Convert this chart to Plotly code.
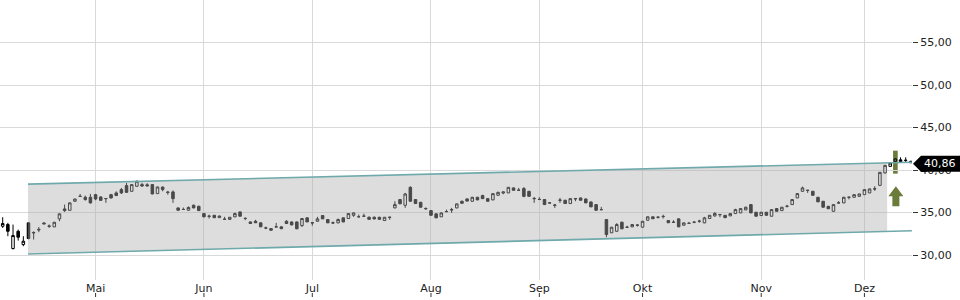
import plotly.graph_objects as go

# ---------------- data ----------------
month_labels = ["Mai", "Jun", "Jul", "Aug", "Sep", "Okt", "Nov", "Dez"]
month_index = [18, 39, 60, 83, 104, 124, 147, 167]

opens = [
    33.39, 33.59, 30.77, 32.80, 31.24, 33.79, 32.60, 32.95, 33.78, 33.42,
    33.32, 34.26, 35.43, 35.27, 36.33, 36.92, 36.80, 36.80, 37.11, 36.84,
    36.66, 37.11, 37.31, 37.70, 38.17, 37.50, 38.09, 38.29, 38.27, 38.29,
    37.23, 38.00, 37.36, 37.43, 35.55, 35.38, 35.28, 35.86, 35.74, 34.88,
    34.58, 34.68, 34.40, 34.20, 34.20, 34.50, 35.08, 34.32, 33.90, 33.98,
    33.79, 33.20, 33.12, 33.30, 33.32, 33.98, 33.90, 33.90, 33.47, 34.38,
    33.82, 33.98, 34.65, 34.18, 33.80, 33.79, 34.38, 34.30, 34.68, 34.50,
    34.57, 34.45, 34.45, 34.45, 34.06, 34.47, 35.55, 36.53, 35.86, 37.97,
    36.53, 36.21, 35.48, 35.23, 34.85, 34.50, 35.10, 35.30, 35.55, 36.33,
    36.61, 36.33, 36.80, 37.00, 36.64, 36.49, 37.03, 37.30, 37.31, 37.90,
    37.64, 37.82, 37.50, 36.62, 36.53, 36.53, 36.12, 35.84, 36.43, 36.45,
    36.06, 36.60, 36.72, 36.60, 36.25, 35.94, 35.33, 34.18, 32.62, 32.80,
    33.86, 33.26, 33.32, 33.50, 33.28, 34.10, 34.50, 34.44, 34.52, 34.06,
    33.85, 34.26, 33.51, 33.72, 33.85, 33.97, 33.79, 34.30, 34.60, 34.78,
    34.68, 34.61, 34.88, 34.96, 35.31, 35.94, 35.04, 34.65, 35.04, 34.57,
    35.47, 35.23, 35.73, 35.94, 36.72, 37.50, 37.64, 37.50, 36.80, 36.33,
    35.74, 35.15, 36.12, 36.14, 36.82, 36.80, 36.91, 37.11, 37.31, 37.76,
    38.20, 39.66, 40.43, 41.02, 41.20, 41.12, 41.02,
]
highs = [
    34.45, 33.79, 33.59, 33.00, 32.22, 33.85, 32.80, 33.30, 33.85, 33.60,
    33.90, 34.90, 35.94, 36.20, 36.62, 37.19, 37.00, 37.19, 37.20, 36.88,
    36.66, 37.20, 37.50, 37.90, 38.49, 38.30, 38.75, 38.50, 38.45, 38.35,
    38.05, 38.05, 37.55, 37.60, 35.60, 35.60, 35.72, 35.95, 35.80, 34.95,
    34.75, 34.72, 34.62, 34.50, 34.47, 35.00, 35.10, 34.45, 33.95, 34.15,
    33.85, 33.35, 33.15, 33.79, 33.40, 34.10, 33.95, 33.95, 34.35, 34.45,
    33.85, 34.50, 34.70, 34.20, 33.95, 34.30, 34.40, 34.90, 35.00, 34.77,
    34.88, 34.55, 34.55, 34.50, 34.48, 34.50, 36.33, 36.60, 37.31, 38.09,
    36.60, 36.25, 35.62, 35.25, 34.90, 35.00, 35.35, 35.55, 36.05, 36.40,
    36.65, 36.85, 36.85, 37.10, 36.70, 37.25, 37.45, 37.45, 38.00, 37.95,
    37.90, 38.00, 37.55, 36.84, 36.80, 36.55, 36.20, 36.02, 36.72, 36.50,
    36.66, 36.68, 36.75, 36.65, 36.30, 35.98, 35.67, 34.20, 33.30, 33.75,
    33.95, 33.45, 33.62, 33.65, 34.00, 34.55, 34.52, 34.55, 34.75, 34.08,
    34.10, 34.28, 33.80, 33.90, 34.00, 34.15, 34.50, 34.70, 35.05, 34.80,
    34.70, 34.90, 35.45, 35.50, 35.70, 36.00, 35.06, 35.06, 35.06, 35.40,
    35.50, 35.65, 35.90, 36.55, 37.30, 38.05, 37.66, 37.55, 36.85, 36.35,
    35.76, 35.96, 36.35, 36.85, 36.84, 37.13, 37.21, 37.72, 37.80, 38.10,
    39.75, 40.60, 40.88, 41.35, 41.50, 41.50, 41.10,
]
lows = [
    33.20, 32.22, 30.66, 31.71, 31.04, 31.85, 31.83, 32.70, 33.60, 33.20,
    33.30, 33.98, 35.08, 35.25, 36.30, 36.90, 36.40, 36.06, 36.45, 36.42,
    36.14, 36.65, 36.95, 37.20, 37.30, 37.48, 38.05, 38.05, 38.10, 37.15,
    37.20, 37.50, 37.10, 36.14, 35.22, 35.36, 35.20, 35.50, 35.20, 34.45,
    34.30, 34.35, 34.38, 34.18, 34.18, 34.45, 34.55, 34.10, 33.70, 33.78,
    33.30, 33.05, 32.90, 33.28, 33.08, 33.70, 33.50, 33.05, 33.30, 33.88,
    33.45, 33.95, 34.25, 33.78, 33.65, 33.75, 33.88, 34.28, 34.50, 34.48,
    34.55, 34.15, 34.20, 34.18, 34.05, 34.15, 35.50, 36.00, 35.55, 36.30,
    36.05, 35.60, 35.30, 34.65, 34.35, 34.48, 35.08, 34.96, 35.50, 36.05,
    36.30, 36.30, 36.45, 36.60, 36.30, 36.45, 37.00, 37.15, 37.30, 37.60,
    37.60, 36.80, 36.90, 36.14, 36.50, 35.90, 36.10, 35.55, 36.14, 36.05,
    36.05, 36.33, 36.40, 36.12, 35.65, 35.25, 35.30, 32.10, 32.60, 32.78,
    33.05, 33.24, 33.30, 33.35, 33.25, 34.05, 34.25, 34.30, 34.30, 33.78,
    33.83, 33.30, 33.50, 33.70, 33.75, 33.80, 33.75, 34.28, 34.55, 34.45,
    34.35, 34.60, 34.85, 34.95, 35.30, 34.95, 34.55, 34.63, 34.66, 34.55,
    35.13, 35.20, 35.60, 35.90, 36.70, 37.45, 37.31, 37.00, 36.25, 35.60,
    35.42, 35.13, 36.10, 36.10, 36.55, 36.78, 36.90, 37.09, 37.29, 37.55,
    38.15, 39.60, 40.40, 40.95, 40.85, 40.83, 40.85,
]
closes = [
    33.71, 32.80, 32.30, 32.10, 31.63, 31.95, 32.65, 33.02, 33.68, 33.40,
    33.86, 34.85, 35.23, 36.14, 36.60, 36.90, 36.53, 36.14, 36.60, 36.44,
    36.64, 36.72, 37.00, 37.31, 37.38, 38.29, 38.68, 38.12, 38.13, 37.19,
    38.01, 37.70, 37.40, 36.64, 35.27, 35.36, 35.60, 35.55, 35.23, 34.50,
    34.56, 34.40, 34.60, 34.22, 34.45, 34.88, 34.57, 34.30, 33.72, 33.80,
    33.32, 33.18, 32.92, 33.32, 33.10, 33.71, 33.55, 33.09, 34.30, 33.90,
    33.78, 34.26, 34.26, 33.79, 33.78, 34.18, 33.90, 34.88, 34.96, 34.50,
    34.58, 34.20, 34.25, 34.20, 34.45, 34.43, 35.94, 36.03, 37.19, 36.33,
    36.06, 35.63, 35.46, 34.68, 34.38, 34.96, 35.12, 35.35, 36.02, 36.09,
    36.35, 36.80, 36.49, 36.64, 36.33, 37.23, 37.38, 37.43, 37.97, 37.62,
    37.62, 36.91, 36.91, 36.66, 36.55, 35.94, 36.14, 35.88, 36.47, 36.06,
    36.64, 36.64, 36.45, 36.14, 35.67, 35.27, 35.35, 32.42, 33.28, 33.59,
    33.09, 33.28, 33.59, 33.53, 33.98, 34.50, 34.27, 34.46, 34.55, 33.80,
    33.87, 33.32, 33.79, 33.74, 33.87, 33.99, 34.38, 34.68, 34.90, 34.75,
    34.40, 34.88, 35.35, 35.47, 35.63, 34.96, 34.57, 35.04, 34.68, 35.35,
    35.15, 35.63, 35.75, 36.53, 37.23, 37.90, 37.60, 37.03, 36.26, 35.63,
    35.45, 35.94, 36.14, 36.80, 36.80, 37.11, 37.19, 37.70, 37.78, 37.80,
    39.73, 40.55, 40.83, 41.30, 41.02, 41.15, 40.86,
]
x_idx = list(range(len(closes)))

# trend channel (start/end in bar index, values in price)
channel_x = [4.9, 176.2]
channel_upper = [38.35, 40.92]
channel_lower = [30.12, 32.86]
channel_fill_end = 171.4

# signal highlight
signal_idx = 173
signal_range = [39.58, 42.28]
arrow_tip = 38.1

last_price = closes[-1]
y_ticks = [30, 35, 40, 45, 50, 55]

# ---------------- figure ----------------
FONT = "DejaVu Sans"
GRID = "#d9d9d9"


def interp(xa, ya, xv):
    return ya[0] + (ya[1] - ya[0]) * (xv - xa[0]) / (xa[1] - xa[0])


fig = go.Figure()

# channel fill
fx = [channel_x[0], channel_fill_end, channel_fill_end, channel_x[0]]
fy = [channel_upper[0], interp(channel_x, channel_upper, channel_fill_end),
      interp(channel_x, channel_lower, channel_fill_end), channel_lower[0]]
fig.add_trace(go.Scatter(x=fx, y=fy, fill="toself", mode="none",
                         fillcolor="rgba(175,175,175,0.42)", hoverinfo="skip",
                         showlegend=False))
# channel lines
for ys in (channel_upper, channel_lower):
    fig.add_trace(go.Scatter(x=channel_x, y=ys, mode="lines",
                             line=dict(color="#6fa9ab", width=1.6),
                             hoverinfo="skip", showlegend=False))

fig.add_trace(go.Candlestick(
    x=x_idx, open=opens, high=highs, low=lows, close=closes,
    increasing=dict(line=dict(color="#000000", width=1), fillcolor="#ffffff"),
    decreasing=dict(line=dict(color="#000000", width=1), fillcolor="#000000"),
    whiskerwidth=0, showlegend=False, hoverinfo="skip",
))

shapes = []
# green signal bar (behind candle)
shapes.append(dict(type="rect", xref="x", yref="y", layer="below",
                   x0=signal_idx - 0.45, x1=signal_idx + 0.45,
                   y0=signal_range[0], y1=signal_range[1],
                   fillcolor="#6b7b3a", line=dict(width=0)))
# up arrow
shapes.append(dict(type="path", xref="x", yref="y",
                   xsizemode="pixel", ysizemode="pixel",
                   xanchor=signal_idx, yanchor=arrow_tip,
                   path="M 0.5 0 L 8 -10 L 4 -10 L 4 -20 L -3 -20 L -3 -10 L -7 -10 Z",
                   fillcolor="#6b7b3a", line=dict(width=0)))
# price label box with pointer
shapes.append(dict(type="path", xref="paper", yref="y",
                   xsizemode="pixel", ysizemode="pixel",
                   xanchor=1, yanchor=last_price,
                   path="M 1 -1 L 9 7 L 48 7 L 48 -9 L 9 -9 Z",
                   fillcolor="#000000", line=dict(width=0)))
# x tick marks beneath the labels
for m in month_index:
    shapes.append(dict(type="line", xref="x", yref="paper",
                       x0=m, x1=m, y0=-13 / 280, y1=-17 / 280,
                       line=dict(color="#333333", width=1)))

fig.update_layout(
    width=960, height=300,
    margin=dict(l=0, r=48, t=0, b=20),
    paper_bgcolor="white", plot_bgcolor="white",
    separators=",.",
    font=dict(family=FONT, size=11, color="#222222"),
    shapes=shapes,
    showlegend=False,
    xaxis=dict(
        range=[-0.523, 176.22], tickmode="array",
        tickvals=month_index, ticktext=month_labels,
        showgrid=True, gridcolor=GRID, gridwidth=1,
        zeroline=False, showline=False, ticks="",
        rangeslider=dict(visible=False), fixedrange=True,
        tickfont=dict(family=FONT, size=11, color="#222222"),
    ),
    yaxis=dict(
        side="right", range=[27.07, 60.0],
        tickmode="array", tickvals=y_ticks, tickformat=".2f",
        showgrid=True, gridcolor=GRID, gridwidth=1,
        zeroline=False, showline=False,
        ticks="outside", ticklen=5, tickcolor="#333333",
        tickfont=dict(family=FONT, size=11, color="#222222"),
        fixedrange=True,
    ),
    annotations=[dict(
        xref="paper", yref="y", x=1, y=last_price, xanchor="left",
        yanchor="middle", xshift=10, yshift=-1, showarrow=False,
        text=f"{last_price:.2f}".replace(".", ","),
        font=dict(family=FONT, size=11, color="white"),
    )],
)

fig.write_html("out.html")
